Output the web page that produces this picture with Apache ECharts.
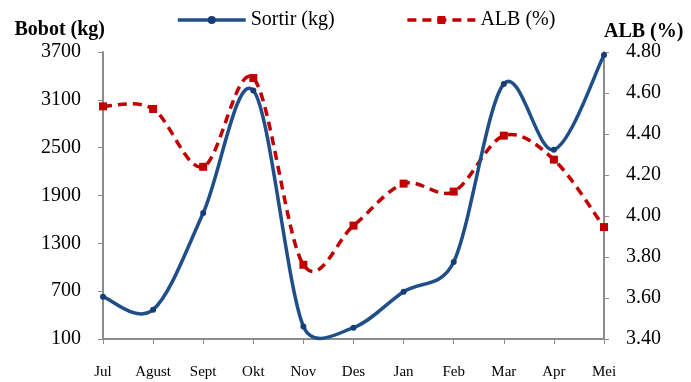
<!DOCTYPE html>
<html>
<head>
<meta charset="utf-8">
<script src="https://cdn.jsdelivr.net/npm/echarts@6/dist/echarts.min.js"></script>
<style>
  html, body { margin: 0; padding: 0; background: #fff; }
  #chart { width: 691px; height: 382px; }
</style>
</head>
<body>
<div id="chart"></div>
<script>
// Monthly sorting weight (kg) and free fatty acid level (%)
const months = ['Jul', 'Agust', 'Sept', 'Okt', 'Nov', 'Des', 'Jan', 'Feb', 'Mar', 'Apr', 'Mei'];
const sortirKg = [630, 468, 1681, 3218, 258, 242, 693, 1066, 3299, 2475, 3662];
const albPct = [4.535, 4.522, 4.24, 4.673, 3.762, 3.953, 4.158, 4.119, 4.392, 4.275, 3.946];

const serif = '"Liberation Serif", "DejaVu Serif", serif';
const axisGray = '#8c8c8c';
const blue = '#1f4e89';
const red = '#c00000';
const redDash = [9, 6];

function dist(a, b) {
  return Math.hypot(b[0] - a[0], b[1] - a[1]);
}

// Smooth curve through all points of one series: cubic segments with 1/6 tangent
// handles, each handle capped at half of its segment's length.
// Points are placed with the chart's own axes via api.coord.
function smoothCurve(values, yAxisIdx, stroke, dash) {
  return {
    type: 'custom',
    yAxisIndex: yAxisIdx,
    silent: true,
    z: yAxisIdx === 0 ? 3 : 2,
    data: values.map((v, i) => [i, v]),
    renderItem: function (params, api) {
      if (params.dataIndex !== 0) return null;
      const pts = values.map((v, i) => api.coord([i, v]));
      const n = pts.length;
      let d = 'M' + pts[0][0] + ' ' + pts[0][1];
      for (let i = 0; i < n - 1; i++) {
        const p0 = pts[Math.max(i - 1, 0)];
        const p1 = pts[i];
        const p2 = pts[i + 1];
        const p3 = pts[Math.min(i + 2, n - 1)];
        const d12 = dist(p1, p2);
        const d02 = dist(p0, p2);
        const d13 = dist(p1, p3);
        let f1 = 1 / 6, f2 = 1 / 6;
        if (d02 / 6 >= d12 / 2 && d02 > 0) f1 = d12 / 2 / d02;
        if (d13 / 6 >= d12 / 2 && d13 > 0) f2 = d12 / 2 / d13;
        const c1x = p1[0] + (p2[0] - p0[0]) * f1;
        const c1y = p1[1] + (p2[1] - p0[1]) * f1;
        const c2x = p2[0] + (p1[0] - p3[0]) * f2;
        const c2y = p2[1] + (p1[1] - p3[1]) * f2;
        d += ' C' + c1x + ' ' + c1y + ' ' + c2x + ' ' + c2y + ' ' + p2[0] + ' ' + p2[1];
      }
      return {
        type: 'path',
        shape: { pathData: d },
        style: { fill: null, stroke: stroke, lineWidth: 3.5, lineDash: dash || null, lineCap: 'butt' }
      };
    }
  };
}

const chart = echarts.init(document.getElementById('chart'));
chart.setOption({
  animation: false,
  backgroundColor: '#fff',
  textStyle: { fontFamily: serif },
  legend: {
    top: 5,
    left: 171,
    itemGap: 71,
    itemWidth: 68,
    itemHeight: 10,
    textStyle: { fontFamily: serif, fontSize: 20, color: '#000' },
    data: [
      { name: 'Sortir (kg)', lineStyle: { color: blue, width: 3.5, opacity: 1 } },
      { name: 'ALB (%)', lineStyle: { color: red, width: 3.5, type: redDash, opacity: 1 } }
    ]
  },
  grid: { left: 103, right: 87, top: 52, bottom: 43 },
  xAxis: {
    type: 'category',
    boundaryGap: false,
    data: months,
    axisLine: { lineStyle: { color: axisGray, width: 2 } },
    axisTick: { show: true, alignWithLabel: true, length: 5, lineStyle: { color: axisGray } },
    axisLabel: { fontFamily: serif, fontSize: 15, color: '#000', margin: 26 }
  },
  yAxis: [
    {
      type: 'value',
      name: 'Bobot (kg)',
      nameLocation: 'end',
      nameGap: 22,
      nameTextStyle: { fontFamily: serif, fontSize: 20, fontWeight: 'bold', color: '#000', align: 'right', verticalAlign: 'middle', padding: [0, -2, 0, 0] },
      min: 100, max: 3700, interval: 600,
      axisLine: { show: true, lineStyle: { color: axisGray, width: 2 } },
      axisTick: { show: true, length: 5, lineStyle: { color: axisGray } },
      axisLabel: { fontFamily: serif, fontSize: 20, color: '#000', margin: 22, formatter: v => String(v) },
      splitLine: { show: false }
    },
    {
      type: 'value',
      name: 'ALB (%)',
      nameLocation: 'end',
      nameGap: 20,
      nameTextStyle: { fontFamily: serif, fontSize: 20, fontWeight: 'bold', color: '#000', align: 'left', verticalAlign: 'middle' },
      min: 3.4, max: 4.8, interval: 0.2,
      position: 'right',
      axisLine: { show: true, lineStyle: { color: axisGray, width: 2 } },
      axisTick: { show: true, length: 5, lineStyle: { color: axisGray } },
      axisLabel: { fontFamily: serif, fontSize: 20, color: '#000', margin: 22, formatter: v => v.toFixed(2) },
      splitLine: { show: false }
    }
  ],
  series: [
    smoothCurve(sortirKg, 0, blue, null),
    smoothCurve(albPct, 1, red, redDash),
    {
      name: 'Sortir (kg)',
      type: 'line',
      yAxisIndex: 0,
      data: sortirKg,
      symbol: 'circle',
      symbolSize: 6,
      itemStyle: { color: '#163e74' },
      lineStyle: { opacity: 0 },
      z: 4
    },
    {
      name: 'ALB (%)',
      type: 'line',
      yAxisIndex: 1,
      data: albPct,
      symbol: 'rect',
      symbolSize: 8,
      itemStyle: { color: red },
      lineStyle: { opacity: 0 },
      z: 4
    }
  ]
});
</script>
</body>
</html>
